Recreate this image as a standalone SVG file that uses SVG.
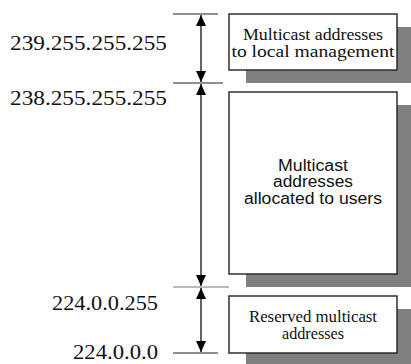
<svg xmlns="http://www.w3.org/2000/svg" width="411" height="364" viewBox="0 0 411 364">
<style>
.shadow{fill:#808080;}
.box{fill:#fff;stroke:#222;stroke-width:1.4;}
.tick{stroke:#222;stroke-width:1.2;}
.arrow{stroke:#111;stroke-width:1.3;fill:none;marker-start:url(#ah);marker-end:url(#ah);}
.addr{font-family:"Liberation Serif","DejaVu Serif","Times New Roman",serif;font-size:20px;fill:#111;}
.serif{font-family:"Liberation Serif","DejaVu Serif","Times New Roman",serif;font-size:16px;fill:#111;text-anchor:middle;}
.sans{font-family:"Liberation Sans",Arial,sans-serif;font-size:16px;fill:#111;text-anchor:middle;}
</style>
<defs>
<marker id="ah" viewBox="0 0 11 10" refX="11" refY="5" markerWidth="11" markerHeight="10" markerUnits="userSpaceOnUse" orient="auto-start-reverse">
<path d="M0,0 L11,5 L0,10 Z" fill="#000"/>
</marker>
</defs>
<g id="labels">
<text class="addr" x="10" y="50" textLength="157" lengthAdjust="spacingAndGlyphs">239.255.255.255</text>
<text class="addr" x="10" y="105" textLength="157" lengthAdjust="spacingAndGlyphs">238.255.255.255</text>
<text class="addr" x="52" y="310" textLength="106" lengthAdjust="spacingAndGlyphs">224.0.0.255</text>
<text class="addr" x="73" y="359" textLength="85" lengthAdjust="spacingAndGlyphs">224.0.0.0</text>
</g>
<g id="connectors">
<line class="tick" x1="173" y1="14" x2="218" y2="14"/>
<line class="tick" x1="173" y1="83" x2="223" y2="83"/>
<line class="tick" x1="173" y1="287" x2="229" y2="287" style="stroke:#777"/>
<line class="tick" x1="173" y1="353" x2="218" y2="353"/>
<line class="arrow" x1="201" y1="15" x2="201" y2="82"/>
<line class="arrow" x1="201" y1="84" x2="201" y2="286"/>
<line class="arrow" x1="201" y1="288" x2="201" y2="352"/>
</g>
<g id="node-local">
<rect class="shadow" x="246" y="27" width="170" height="56"/>
<rect class="box" x="229" y="14" width="168" height="56"/>
<text class="serif" x="313" y="40" textLength="140" lengthAdjust="spacingAndGlyphs">Multicast addresses</text>
<text class="serif" x="313" y="57" textLength="163" lengthAdjust="spacingAndGlyphs">to local management</text>
</g>
<g id="node-users">
<rect class="shadow" x="246" y="105" width="170" height="182"/>
<rect class="box" x="229" y="92" width="168" height="182"/>
<text class="sans" x="313" y="171" textLength="70" lengthAdjust="spacingAndGlyphs">Multicast</text>
<text class="sans" x="313" y="187" textLength="80" lengthAdjust="spacingAndGlyphs">addresses</text>
<text class="sans" x="313" y="204" textLength="138" lengthAdjust="spacingAndGlyphs">allocated to users</text>
</g>
<g id="node-reserved">
<rect class="shadow" x="246" y="309" width="170" height="60"/>
<rect class="box" x="229" y="296" width="168" height="57"/>
<text class="serif" x="313" y="322" textLength="128" lengthAdjust="spacingAndGlyphs">Reserved multicast</text>
<text class="serif" x="313" y="339" textLength="62" lengthAdjust="spacingAndGlyphs">addresses</text>
</g>
</svg>
